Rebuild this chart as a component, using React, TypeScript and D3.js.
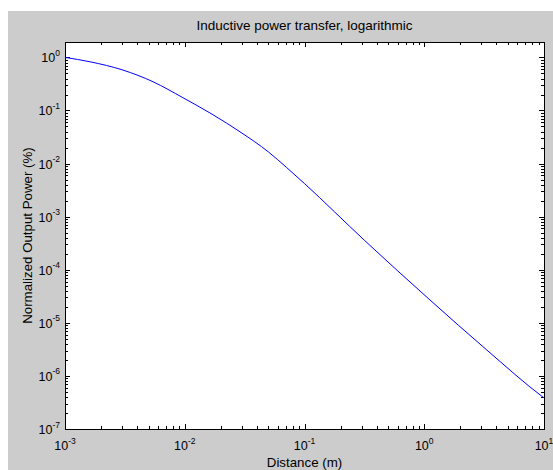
import React from "react";
import * as d3 from "d3";

const distance = [0.001, 0.00162, 0.00305, 0.00543, 0.00966, 0.0172, 0.0289, 0.0501, 0.0708, 0.1, 0.316, 1.117, 3.327, 9.863, 10];
const power = [1.0, 0.826, 0.577, 0.348, 0.174, 0.0832, 0.0397, 0.0165, 0.00845, 0.00420, 0.00036, 2.69e-5, 3.08e-6, 3.95e-7, 3.86e-7];
const xTickExps = [-3, -2, -1, 0, 1];
const yTickExps = [-7, -6, -5, -4, -3, -2, -1, 0];
const title = "Inductive power transfer, logarithmic";
const xLabel = "Distance (m)";
const yLabel = "Normalized Output Power (%)";

const W = 553, H = 470;
const L = 65, R = 544, T = 42, B = 429;
const FONT = "'Liberation Sans', Arial, Helvetica, sans-serif";

export default function App() {
  const x = d3.scaleLog().domain([1e-3, 10]).range([L, R]);
  const y = d3.scaleLog().domain([1e-7, 1.95]).range([B, T]);
  const line = d3
    .line<number>()
    .x((_, i) => x(distance[i]))
    .y((_, i) => y(power[i]))
    .curve(d3.curveMonotoneX);

  const xMinor: number[] = [];
  for (let e = -3; e < 1; e++) for (let m = 2; m <= 9; m++) xMinor.push(m * Math.pow(10, e));
  const yMinor: number[] = [];
  for (let e = -7; e <= 0; e++) for (let m = 2; m <= 9; m++) {
    const v = m * Math.pow(10, e);
    if (v <= 1.95) yMinor.push(v);
  }
  const maj = 5, mnr = 3;

  return (
    <svg width={W} height={H} style={{ position: "absolute", left: 0, top: 0 }}>
      <rect x={8} y={11} width={W - 8} height={H - 11} fill="#cccccc" />
      <rect x={L} y={T} width={R - L} height={B - T} fill="#ffffff" />
      <g stroke="#000" strokeWidth={1} shapeRendering="crispEdges">
        {xTickExps.map((e) => {
          const px = Math.round(x(Math.pow(10, e))) + 0.5;
          return (
            <g key={"xm" + e}>
              <line x1={px} x2={px} y1={B} y2={B - maj} />
              <line x1={px} x2={px} y1={T} y2={T + maj} />
            </g>
          );
        })}
        {xMinor.map((v, i) => {
          const px = Math.round(x(v)) + 0.5;
          return (
            <g key={"xn" + i}>
              <line x1={px} x2={px} y1={B} y2={B - mnr} />
              <line x1={px} x2={px} y1={T} y2={T + mnr} />
            </g>
          );
        })}
        {yTickExps.map((e) => {
          const py = Math.round(y(Math.pow(10, e))) + 0.5;
          return (
            <g key={"ym" + e}>
              <line x1={L} x2={L + maj} y1={py} y2={py} />
              <line x1={R} x2={R - maj} y1={py} y2={py} />
            </g>
          );
        })}
        {yMinor.map((v, i) => {
          const py = Math.round(y(v)) + 0.5;
          return (
            <g key={"yn" + i}>
              <line x1={L} x2={L + mnr} y1={py} y2={py} />
              <line x1={R} x2={R - mnr} y1={py} y2={py} />
            </g>
          );
        })}
        <rect x={L + 0.5} y={T + 0.5} width={R - L} height={B - T} fill="none" />
      </g>
      <path d={line(power) || ""} fill="none" stroke="#0000ff" strokeWidth={1} />
      <g fontFamily={FONT} fill="#000">
        {xTickExps.map((e) => (
          <text key={"xl" + e} x={x(Math.pow(10, e))} y={450} fontSize={12.5} textAnchor="middle">
            10<tspan fontSize={8.5} dy={-6.5}>{e}</tspan>
          </text>
        ))}
        {yTickExps.map((e) => (
          <text key={"yl" + e} x={60} y={y(Math.pow(10, e)) + 5} fontSize={12.5} textAnchor="end">
            10<tspan fontSize={8.5} dy={-6.5}>{e}</tspan>
          </text>
        ))}
        <text x={(L + R) / 2} y={30} fontSize={13.5} textAnchor="middle">{title}</text>
        <text x={(L + R) / 2} y={467} fontSize={13.3} textAnchor="middle">{xLabel}</text>
        <text transform={`translate(32,${(T + B) / 2}) rotate(-90)`} fontSize={13.3} textAnchor="middle">{yLabel}</text>
      </g>
    </svg>
  );
}
